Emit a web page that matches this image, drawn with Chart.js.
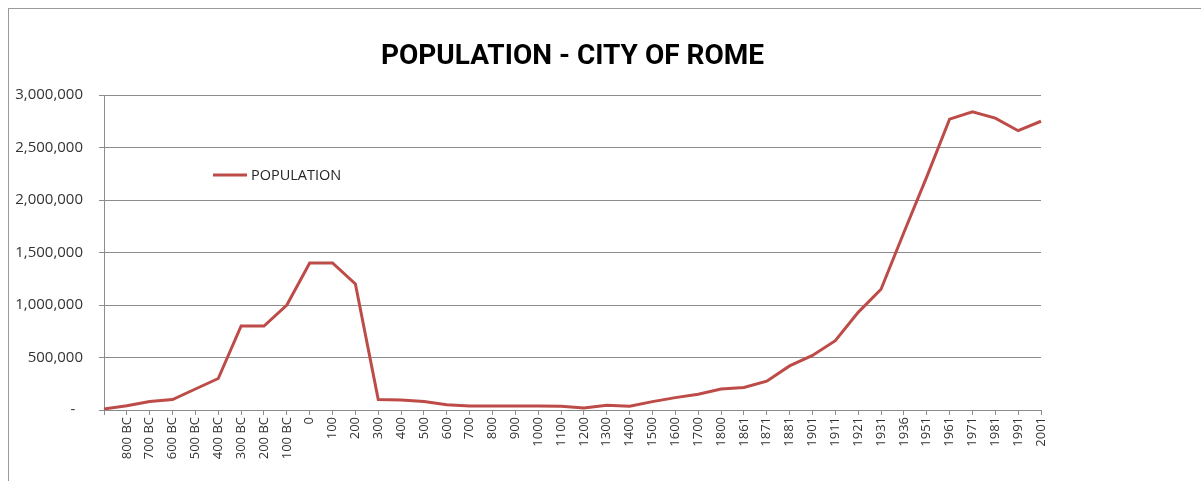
<!DOCTYPE html>
<html>
<head>
<meta charset="utf-8">
<script src="https://cdn.jsdelivr.net/npm/chart.js@4.4.1/dist/chart.umd.min.js"></script>
<style>
  html, body { margin: 0; padding: 0; background: #fff; }
  #wrap { position: relative; width: 1201px; height: 481px; overflow: hidden; }
  #frame { position: absolute; left: 8px; top: 8px; width: 1200px; height: 480px;
           border-top: 1px solid #9a9a9a; border-left: 1px solid #9a9a9a; pointer-events: none; }
  canvas { position: absolute; left: 0; top: 0; }
</style>
</head>
<body>
<div id="wrap">
  <canvas id="c" width="1201" height="481"></canvas>
  <div id="frame"></div>
</div>
<script>
const categories = ["", "800 BC", "700 BC", "600 BC", "500 BC", "400 BC", "300 BC", "200 BC", "100 BC",
  "0", "100", "200", "300", "400", "500", "600", "700", "800", "900", "1000", "1100", "1200",
  "1300", "1400", "1500", "1600", "1700", "1800", "1861", "1871", "1881", "1901", "1911", "1921",
  "1931", "1936", "1951", "1961", "1971", "1981", "1991", "2001"];

const population = [10000, 40000, 80000, 100000, 200000, 300000, 800000, 800000, 1000000,
  1400000, 1400000, 1200000, 100000, 95000, 80000, 50000, 38000, 38000, 38000, 38000, 35000, 20000,
  45000, 35000, 80000, 118000, 150000, 200000, 215000, 275000, 420000, 520000, 660000, 930000,
  1150000, 1690000, 2220000, 2770000, 2840000, 2780000, 2660000, 2750000];

const yTicks = [0, 500000, 1000000, 1500000, 2000000, 2500000, 3000000];

const chartTitle = "POPULATION - CITY OF ROME";
const seriesName = "POPULATION";

const legendInArea = {
  id: 'legendInArea',
  afterDraw(chart) {
    const ctx = chart.ctx;
    const ds = chart.data.datasets[0];
    const a = chart.chartArea;
    const x0 = a.left + 109, y0 = a.top + 80;
    ctx.save();
    ctx.strokeStyle = ds.borderColor;
    ctx.lineWidth = 3;
    ctx.beginPath();
    ctx.moveTo(x0, y0);
    ctx.lineTo(x0 + 34, y0);
    ctx.stroke();
    ctx.fillStyle = '#262626';
    ctx.font = '14.5px "Open Sans"';
    ctx.textBaseline = 'middle';
    ctx.textAlign = 'left';
    ctx.fillText(ds.label, x0 + 38, y0 + 1);
    ctx.restore();
  }
};

new Chart(document.getElementById('c'), {
  type: 'line',
  data: {
    labels: categories,
    datasets: [{
      label: seriesName,
      data: population,
      borderColor: '#bd4b48',
      borderWidth: 3,
      pointRadius: 0,
      tension: 0,
      fill: false
    }]
  },
  options: {
    responsive: false,
    animation: false,
    devicePixelRatio: 1,
    layout: { padding: { left: 0, right: 160, top: 0, bottom: 0 } },
    plugins: {
      legend: { display: false },
      tooltip: { enabled: false },
      title: {
        display: true,
        fullSize: false,
        text: chartTitle,
        color: '#000',
        font: { family: 'Roboto, "Open Sans"', size: 28, weight: 'bold', lineHeight: 1.2 },
        padding: { top: 40.2, bottom: 21.2 }
      }
    },
    scales: {
      x: {
        offset: false,
        afterFit(scale) { scale.height = 71; },
        grid: { display: true, drawOnChartArea: false, drawTicks: true, tickLength: 5, color: '#8c8c8c' },
        border: { display: true, color: '#8c8c8c', width: 1 },
        ticks: {
          autoSkip: false, minRotation: 90, maxRotation: 90, padding: 2,
          color: '#333', font: { family: '"Open Sans"', size: 13 }
        }
      },
      y: {
        min: 0, max: 3000000,
        afterFit(scale) { scale.width = 104; },
        afterBuildTicks(scale) { scale.ticks = yTicks.map(v => ({ value: v })); },
        grid: { color: '#8c8c8c', tickLength: 5, drawTicks: true, lineWidth: 1 },
        border: { display: true, color: '#8c8c8c', width: 1 },
        ticks: {
          padding: 16, color: '#333', font: { family: '"Open Sans"', size: 15 },
          callback(v) { return v === 0 ? '-  ' : v.toLocaleString('en-US'); }
        }
      }
    }
  },
  plugins: [legendInArea]
});
</script>
</body>
</html>
